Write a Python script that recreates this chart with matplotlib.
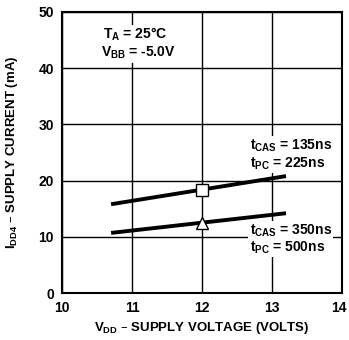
import matplotlib
matplotlib.use("Agg")
import matplotlib.pyplot as plt
import matplotlib.transforms as mtransforms

plt.rcParams['font.family'] = ['Liberation Sans', 'DejaVu Sans']
plt.rcParams['mathtext.default'] = 'regular'

vdd = [10.7, 13.2]
idd_fast = [15.8, 20.8]
idd_slow = [10.7, 14.2]
marker_x = [12]
marker_fast = [18.4]
marker_slow = [12.5]
xticks = [10, 11, 12, 13, 14]
yticks = [0, 10, 20, 30, 40, 50]

fig = plt.figure(figsize=(3.49, 3.40), dpi=100)
ax = fig.add_axes([0.178, 0.138, 0.802, 0.827])
ax.set_xlim(10, 14)
ax.set_ylim(0, 50)
ax.set_xticks(xticks)
ax.set_yticks(yticks)
ax.set_xticklabels([str(t) for t in xticks], fontsize=10, fontweight='bold')
ax.set_yticklabels([str(t) for t in yticks], fontsize=10, fontweight='bold')
ax.tick_params(length=0, pad=6)
ax.grid(True, color='black', linewidth=1.0)
for s in ax.spines.values():
    s.set_linewidth(1.5)

last = ax.get_xticklabels()[-1]
last.set_transform(last.get_transform() + mtransforms.ScaledTranslation(-3/100, 0, fig.dpi_scale_trans))

ax.plot(vdd, idd_fast, color='black', linewidth=2.8, solid_capstyle='butt', zorder=3)
ax.plot(vdd, idd_slow, color='black', linewidth=2.8, solid_capstyle='butt', zorder=3)
ax.plot(marker_x, marker_fast, marker='s', markersize=8, markerfacecolor='white',
        markeredgecolor='black', markeredgewidth=1.0, linestyle='none', zorder=4)
ax.plot(marker_x, marker_slow, marker='^', markersize=9, markerfacecolor='white',
        markeredgecolor='black', markeredgewidth=1.0, linestyle='none', zorder=4)

bb = dict(facecolor='white', edgecolor='none', pad=1)
tk = dict(fontsize=10, fontweight='bold', color='black', bbox=bb, zorder=5)
ax.text(10.58, 45.2, r"$T_A$ = 25$\degree$C", **tk)
ax.text(10.55, 42.0, r"$V_{BB}$ = -5.0V", **tk)
ax.text(12.68, 25.5, r"$t_{CAS}$ = 135ns", **tk)
ax.text(12.68, 22.4, r"$t_{PC}$ = 225ns", **tk)
ax.text(12.68, 10.4, r"$t_{CAS}$ = 350ns", **tk)
ax.text(12.68, 7.4, r"$t_{PC}$ = 500ns", **tk)

ax.set_xlabel(r"$V_{DD}$ – SUPPLY VOLTAGE (VOLTS)", fontsize=9.5, fontweight='bold', labelpad=3)
ax.set_ylabel(r"$I_{DD4}$ – SUPPLY CURRENT (mA)", fontsize=9.5, fontweight='bold', labelpad=13)

fig.savefig("out.png", dpi=100)
